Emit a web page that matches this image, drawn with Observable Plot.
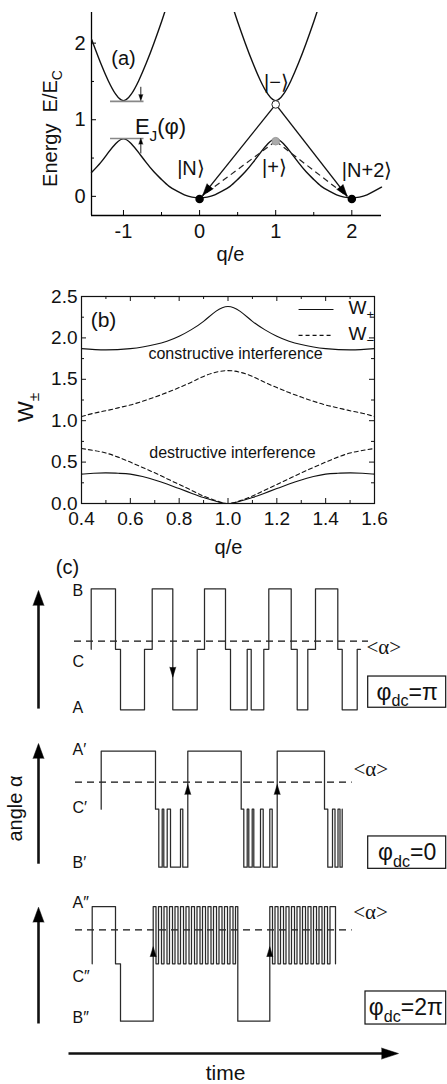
<!DOCTYPE html>
<html><head><meta charset="utf-8">
<script src="https://cdn.jsdelivr.net/npm/d3@7"></script>
<script src="https://cdn.jsdelivr.net/npm/@observablehq/plot@0.6"></script>
<style>
body{margin:0;background:#fff}
#wrap{position:relative;width:447px;height:1084px;overflow:hidden;background:#fff}
</style></head>
<body><div id="wrap"></div>
<script>
// ================= DATA =================
// Panel (a): energy bands vs q/e
const aLowerQ = [-1.42,-1.3,-1.2,-1.1,-1.0,-0.9,-0.8,-0.7,-0.6,-0.5,-0.4,-0.3,-0.2,-0.1,0,0.1,0.2,0.3,0.4,0.5,0.6,0.7,0.8,0.9,1.0,1.1,1.2,1.3,1.4,1.5,1.6,1.7,1.8,1.9,2.0,2.1,2.2,2.3,2.39];
const aLowerE = [0.31,0.44,0.57,0.69,0.75,0.69,0.57,0.44,0.32,0.22,0.13,0.07,0.02,-0.01,-0.02,-0.01,0.02,0.07,0.13,0.22,0.32,0.44,0.57,0.69,0.75,0.69,0.57,0.44,0.32,0.22,0.13,0.07,0.02,-0.01,-0.02,-0.01,0.02,0.07,0.12];
const aUpperLQ = [-1.42,-1.4,-1.3,-1.2,-1.1,-1.0,-0.9,-0.8,-0.7,-0.6,-0.5,-0.45];
const aUpperLE = [2.05,2.0,1.74,1.51,1.33,1.25,1.33,1.51,1.74,2.0,2.28,2.43];
const aUpperRQ = [0.45,0.5,0.6,0.7,0.8,0.9,1.0,1.1,1.2,1.3,1.4,1.5,1.55];
const aUpperRE = [2.43,2.28,2.0,1.74,1.51,1.33,1.25,1.33,1.51,1.74,2.0,2.28,2.43];
const aXTicks = [-1,0,1,2], aXMinor = [-0.5,0.5,1.5];
const aYTicks = [0,1,2], aYMinor = [0.5,1.5];
const aWhiteDot = [{q:1,E:1.2}];
const aGrayDot = [{q:1,E:0.72}];
const aBlackDots = [{q:0,E:-0.035},{q:2,E:-0.035}];
const aTips = [{q:0.04,E:0.01},{q:1.94,E:0.0}];
const aGapLevels = [1.24,0.755];

// Panel (b): W+ and W- vs q/e
const bWplusHiQ = [0.4,0.5,0.6,0.65,0.7,0.75,0.8,0.85,0.9,0.95,1.0,1.05,1.1,1.15,1.2,1.25,1.3,1.35,1.4,1.5,1.6];
const bWplusHi  = [1.87,1.855,1.87,1.89,1.92,1.96,2.02,2.10,2.20,2.32,2.38,2.32,2.20,2.10,2.02,1.96,1.92,1.89,1.87,1.855,1.87];
const bQ = [0.4,0.45,0.5,0.55,0.6,0.65,0.7,0.75,0.8,0.85,0.9,0.95,1.0,1.05,1.1,1.15,1.2,1.25,1.3,1.35,1.4,1.45,1.5,1.55,1.6];
const bWminusHi = [1.05,1.09,1.12,1.155,1.19,1.235,1.285,1.34,1.40,1.465,1.535,1.585,1.605,1.585,1.535,1.465,1.40,1.34,1.285,1.235,1.19,1.155,1.12,1.09,1.05];
const bWminusLo = [0.665,0.64,0.61,0.56,0.50,0.435,0.37,0.30,0.23,0.16,0.09,0.035,0.0,0.035,0.09,0.16,0.23,0.30,0.37,0.435,0.50,0.56,0.61,0.64,0.665];
const bWplusLo = [0.355,0.365,0.37,0.365,0.355,0.325,0.285,0.235,0.18,0.125,0.072,0.028,0.0,0.028,0.072,0.125,0.18,0.235,0.285,0.325,0.355,0.365,0.37,0.365,0.355];
const bXTicks = [0.4,0.6,0.8,1.0,1.2,1.4,1.6], bXMinor = [0.5,0.7,0.9,1.1,1.3,1.5];
const bYTicks = [0,0.5,1.0,1.5,2.0,2.5], bYMinor = [0.25,0.75,1.25,1.75,2.25];

// Panel (c): telegraph traces (time, level: 0 = bottom, 0.5 = middle, 1 = top)
const c1T = [22.7,22.7,47,52,76,83.7,104.3,128.7,136,157,162,178.7,182.7,195.3,200.3,222.7,228.7,239.3,247,269.3,273.7,288.7,292];
const c1L = [0.5,1,0.5,0,0.5,1,0,0.5,1,0.5,0,0.5,0,0.5,1,0.5,0,0.5,1,0.5,0,0.5,0.5];
const c2T = [32.7,32.7,87,90.3,93.7,95.3,98.7,102,112,114.3,119.3,172.7,175.3,178.7,180.3,183.7,185.3,192,194.7,201.3,203.7,208.7,256,259.3,264,266.5,269.5,271.5,273.7];
const c2L = [0.5,1,0.5,0,0.5,0,0.5,0,0.5,0,1,0.5,0,0.5,0,0.5,0,0.5,0,0.5,0,1,0.5,0,0.5,0,0.5,0,0.5];
const c3T = [23.7,23.7,47,52,84.7,87.5,90,93,95.5,98.5,101,104,106.5,109.5,112,115,117.5,120.5,123,126,128.5,131.5,134,137,139.5,142.5,145,148,150.5,153.5,156,159,161.5,164.5,167,169.3,201.3,204,206.5,209.5,212,215,217.5,220.5,223,226,228.5,231.5,234,237,239.5,242.5,245,248,250.5,253.5,256,259,261.5,267];
const c3L = [0.5,1,0.5,0,1,0.5,1,0.5,1,0.5,1,0.5,1,0.5,1,0.5,1,0.5,1,0.5,1,0.5,1,0.5,1,0.5,1,0.5,1,0.5,1,0.5,1,0.5,1,0,1,0.5,1,0.5,1,0.5,1,0.5,1,0.5,1,0.5,1,0.5,1,0.5,1,0.5,1,0.5,1,0.5,1,0.5];
const cMean = [0.567,0.733,0.797];        // <alpha> levels
const cMeanSpan = [[6,300],[7,283.7],[7,283.7]];
const cLevelNames = [["B","C","A"],["A\u2032","C\u2032","B\u2032"],["A\u2033","C\u2033","B\u2033"]];
const cPhase = ["\u03C6_{dc}=\u03C0","\u03C6_{dc}=0","\u03C6_{dc}=2\u03C0"];
const c1Arrows = [{t:104.3,l:0.27,rot:180}];
const c2Arrows = [{t:119.3,l:0.713,rot:0},{t:208.7,l:0.713,rot:0}];
const c3Arrows = [{t:84.7,l:0.65,rot:0},{t:201.3,l:0.65,rot:0}];

// ================= HELPERS =================
const W = 447;
const FONT = "Liberation Sans, Arial, Helvetica, sans-serif";
const zip = (xs, ys) => xs.map((x, i) => ({x, y: ys[i]}));
const wrap = document.getElementById("wrap");
function applySubs(root) {
  root.querySelectorAll("text").forEach(el => {
    const s = el.textContent;
    if (!/_\{/.test(s) || el.querySelector("tspan")) return;
    el.textContent = "";
    const re = /_\{([^}]*)\}/g; let last = 0, m, shifted = false;
    const add = (txt, sub) => {
      const t = document.createElementNS("http://www.w3.org/2000/svg", "tspan");
      t.textContent = txt;
      if (sub) { t.setAttribute("font-size", "70%"); t.setAttribute("dy", "0.4em"); }
      else if (shifted) t.setAttribute("dy", "-0.28em");
      el.appendChild(t); shifted = !!sub;
    };
    while ((m = re.exec(s))) { if (m.index > last) add(s.slice(last, m.index), false); add(m[1], true); last = re.lastIndex; }
    if (last < s.length) add(s.slice(last), false);
  });
}
function place(svg, top) {
  svg.style.position = "absolute"; svg.style.left = "0px"; svg.style.top = top + "px";
  wrap.appendChild(svg); applySubs(svg);
}
const head = (data, o) => Plot.vector(data, {shape: "spike", anchor: "end", fill: "black", stroke: "black", strokeWidth: 0.5, ...o});
const label = (data, o) => Plot.text(data, {x: "x", y: "y", text: "t", fill: "#111", ...o});

// ================= PANEL (a) =================
{
  const dx = [-1.42, 2.39], dy = [-0.25, 2.4];
  const m = {top: 12, right: 66, bottom: 65, left: 91}, H = 280;
  const kx = (W - m.left - m.right) / (dx[1] - dx[0]);
  const ky = (H - m.top - m.bottom) / (dy[1] - dy[0]);
  const rot = (p0, p1) => Math.atan2((p1.q - p0.q) * kx, (p1.E - p0.E) * ky) * 180 / Math.PI;
  const solidLinks = aTips.map(p => ({x1: aWhiteDot[0].q, y1: aWhiteDot[0].E, x2: p.q, y2: p.E}));
  const dashLinks = aTips.map(p => ({x1: aGrayDot[0].q, y1: aGrayDot[0].E, x2: p.q, y2: p.E}));
  const tipHeads = aTips.map(p => ({x: p.q, y: p.E, r: rot(aWhiteDot[0], p)}));
  const gapQ = [-1.17, -0.73], gapArrowQ = -0.772;
  const svg = Plot.plot({
    width: W, height: H, marginTop: m.top, marginRight: m.right, marginBottom: m.bottom, marginLeft: m.left,
    x: {domain: dx, label: null}, y: {domain: dy, label: null},
    style: {background: "transparent", fontFamily: FONT, overflow: "visible"},
    marks: [
      Plot.ruleY([dy[0]], {stroke: "black", strokeWidth: 1.3}),
      Plot.ruleX([dx[0]], {stroke: "black", strokeWidth: 1.3}),
      Plot.ruleX(aXTicks, {y1: dy[0], y2: dy[0] + 5 / ky, stroke: "black"}),
      Plot.ruleX(aXMinor, {y1: dy[0], y2: dy[0] + 3 / ky, stroke: "black"}),
      Plot.ruleY(aYTicks, {x1: dx[0], x2: dx[0] + 5 / kx, stroke: "black"}),
      Plot.ruleY(aYMinor, {x1: dx[0], x2: dx[0] + 3 / kx, stroke: "black"}),
      Plot.axisX(aXTicks, {tickSize: 0, tickPadding: 8, fontSize: 20, fill: "#111", tickFormat: d => String(d), label: null}),
      Plot.axisY(aYTicks, {tickSize: 0, tickPadding: 6, fontSize: 20, fill: "#111", tickFormat: d => String(d), label: null}),
      Plot.line(zip(aLowerQ, aLowerE), {x: "x", y: "y", curve: "natural", stroke: "#111", strokeWidth: 1.4}),
      Plot.line(zip(aUpperLQ, aUpperLE), {x: "x", y: "y", curve: "natural", stroke: "#111", strokeWidth: 1.4, clip: true}),
      Plot.line(zip(aUpperRQ, aUpperRE), {x: "x", y: "y", curve: "natural", stroke: "#111", strokeWidth: 1.4, clip: true}),
      Plot.ruleY(aGapLevels, {x1: gapQ[0], x2: gapQ[1], stroke: "#888", strokeWidth: 1.6}),
      Plot.link([{y1: 1.43, y2: 1.27}, {y1: 0.56, y2: 0.73}], {x1: gapArrowQ, x2: gapArrowQ, y1: "y1", y2: "y2", stroke: "#222", strokeWidth: 1}),
      head([{y: 1.25, r: 180}, {y: 0.76, r: 0}], {x: gapArrowQ, y: "y", rotate: "r", length: 6, r: 2}),
      Plot.link(solidLinks, {x1: "x1", y1: "y1", x2: "x2", y2: "y2", stroke: "#111", strokeWidth: 1.4}),
      Plot.link(dashLinks, {x1: "x1", y1: "y1", x2: "x2", y2: "y2", stroke: "#222", strokeWidth: 1.2, strokeDasharray: "6,4"}),
      Plot.dot(aBlackDots, {x: "q", y: "E", r: 3.5, fill: "black", stroke: "black"}),
      head(tipHeads, {x: "x", y: "y", rotate: "r", length: 12, r: 4}),
      Plot.dot(aWhiteDot, {x: "q", y: "E", r: 3.8, fill: "white", stroke: "#222", strokeWidth: 1}),
      Plot.dot(aGrayDot, {x: "q", y: "E", r: 3.8, fill: "#aaa", stroke: "#999", strokeWidth: 1}),
      label([{x: -1.0, y: 1.80, t: "(a)"}], {fontSize: 20}),
      label([{x: -0.85, y: 0.90, t: "E_{J}(\u03C6)"}], {fontSize: 22, textAnchor: "start"}),
      label([{x: -0.113, y: 0.363, t: "|N\u27E9"}, {x: 0.985, y: 0.376, t: "|+\u27E9"}, {x: 1.01, y: 1.486, t: "|\u2212\u27E9"}, {x: 2.2, y: 0.337, t: "|N+2\u27E9"}], {fontSize: 20}),
      label([{x: 0.406, y: -0.76, t: "q/e"}], {fontSize: 20}),
      label([{x: -1.96, y: 0.886, t: "Energy\u00A0\u00A0E/E_{C}"}], {fontSize: 20, rotate: -90})
    ]
  });
  place(svg, 0);
}

// ================= PANEL (b) =================
{
  const dx = [0.4, 1.6], dy = [0, 2.5];
  const m = {top: 11, right: 73, bottom: 57, left: 81}, H = 275;
  const kx = (W - m.left - m.right) / (dx[1] - dx[0]);
  const ky = (H - m.top - m.bottom) / (dy[1] - dy[0]);
  const fmt = d3.format(".1f");
  const svg = Plot.plot({
    width: W, height: H, marginTop: m.top, marginRight: m.right, marginBottom: m.bottom, marginLeft: m.left,
    x: {domain: dx, label: null}, y: {domain: dy, label: null},
    style: {background: "transparent", fontFamily: FONT, overflow: "visible"},
    marks: [
      Plot.frame({stroke: "#111", strokeWidth: 1.2}),
      Plot.ruleX(bXTicks, {y1: dy[0], y2: dy[0] + 5 / ky, stroke: "#111"}),
      Plot.ruleX(bXMinor, {y1: dy[0], y2: dy[0] + 3 / ky, stroke: "#111"}),
      Plot.ruleX(bXTicks, {y1: dy[1], y2: dy[1] - 5 / ky, stroke: "#111"}),
      Plot.ruleX(bXMinor, {y1: dy[1], y2: dy[1] - 3 / ky, stroke: "#111"}),
      Plot.ruleY(bYTicks, {x1: dx[0], x2: dx[0] + 5 / kx, stroke: "#111"}),
      Plot.ruleY(bYMinor, {x1: dx[0], x2: dx[0] + 3 / kx, stroke: "#111"}),
      Plot.ruleY(bYTicks, {x1: dx[1], x2: dx[1] - 5 / kx, stroke: "#111"}),
      Plot.ruleY(bYMinor, {x1: dx[1], x2: dx[1] - 3 / kx, stroke: "#111"}),
      Plot.axisX(bXTicks, {tickSize: 0, tickPadding: 8, fontSize: 19, fill: "#111", tickFormat: fmt, label: null}),
      Plot.axisY(bYTicks, {tickSize: 0, tickPadding: 4, fontSize: 19, fill: "#111", tickFormat: fmt, label: null}),
      Plot.line(zip(bWplusHiQ, bWplusHi), {x: "x", y: "y", curve: "natural", stroke: "#111", strokeWidth: 1.1}),
      Plot.line(zip(bQ, bWplusLo), {x: "x", y: "y", curve: "natural", stroke: "#111", strokeWidth: 1.1}),
      Plot.line(zip(bQ, bWminusHi), {x: "x", y: "y", curve: "natural", stroke: "#111", strokeWidth: 1.1, strokeDasharray: "4,3"}),
      Plot.line(zip(bQ, bWminusLo), {x: "x", y: "y", curve: "natural", stroke: "#111", strokeWidth: 1.1, strokeDasharray: "4,3"}),
      Plot.link([{y: 2.343}], {x1: 1.289, x2: 1.432, y1: "y", y2: "y", stroke: "#111", strokeWidth: 1.1}),
      Plot.link([{y: 2.03}], {x1: 1.289, x2: 1.432, y1: "y", y2: "y", stroke: "#111", strokeWidth: 1.1, strokeDasharray: "4,3"}),
      label([{x: 1.494, y: 2.36, t: "W_{+}"}, {x: 1.494, y: 2.05, t: "W_{\u2212}"}], {fontSize: 19, textAnchor: "start"}),
      label([{x: 0.49, y: 2.21, t: "(b)"}], {fontSize: 21}),
      label([{x: 1.031, y: 1.81, t: "constructive interference"}, {x: 1.018, y: 0.616, t: "destructive interference"}], {fontSize: 16}),
      label([{x: 1.002, y: -0.53, t: "q/e"}], {fontSize: 20}),
      label([{x: 0.171, y: 1.16, t: "W_{\u00B1}"}], {fontSize: 22, rotate: -90})
    ]
  });
  place(svg, 285);
}

// ================= PANEL (c) =================
function cPlot(i, top, H, mT, plotH, T, L, arrows, extra) {
  const dx = [0, 330];
  const ky = plotH / 1;
  const names = cLevelNames[i];
  const nameY = extra.nameY;
  const svg = Plot.plot({
    width: W, height: H, marginTop: mT, marginBottom: H - mT - plotH, marginLeft: 68, marginRight: 49,
    x: {domain: dx, axis: null}, y: {domain: [0, 1], axis: null},
    style: {background: "transparent", fontFamily: FONT, overflow: "visible"},
    marks: [
      Plot.ruleY([cMean[i]], {x1: cMeanSpan[i][0], x2: cMeanSpan[i][1], stroke: "#111", strokeWidth: 1.2, strokeDasharray: "7,5"}),
      Plot.line(zip(T, L), {x: "x", y: "y", curve: "step-after", stroke: "#2a2a2a", strokeWidth: 1.25}),
      head(arrows, {x: "t", y: "l", rotate: "rot", length: 10, r: 3}),
      // left vertical arrow
      Plot.link([{y1: extra.arrowY[0], y2: extra.arrowY[1] - 10 / ky}], {x1: -30, x2: -30, y1: "y1", y2: "y2", stroke: "#111", strokeWidth: 2.6}),
      head([{y: extra.arrowY[1]}], {x: -30, y: "y", rotate: 0, length: 15, r: 5.5}),
      label(names.map((t, k) => ({x: 4, y: nameY[k], t})), {fontSize: 16, textAnchor: "start"}),
      label([{x: extra.meanLabel[0], y: extra.meanLabel[1], t: "<\u03B1>"}], {fontSize: 21, textAnchor: "start", fontFamily: "Liberation Serif, Times New Roman, serif"}),
      Plot.rect([extra.box], {x1: "x1", x2: "x2", y1: "y1", y2: "y2", fill: "white", stroke: "#111", strokeWidth: 1.2}),
      label([{x: (extra.box.x1 + extra.box.x2) / 2, y: extra.boxText, t: cPhase[i]}], {fontSize: 23}),
      ...(extra.more || [])
    ]
  });
  place(svg, top);
}
cPlot(0, 555, 170, 33.3, 121, c1T, c1L, c1Arrows, {
  nameY: [0.986, 0.40, 0.02], arrowY: [0.01, 0.986], meanLabel: [298, 0.517],
  box: {x1: 299.7, x2: 377.7, y1: 0.017, y2: 0.275}, boxText: 0.146,
  more: [label([{x: -1, y: 1.176, t: "(c)"}], {fontSize: 20})]
});
cPlot(1, 725, 160, 25.7, 116, c2T, c2L, c2Arrows, {
  nameY: [1.015, 0.51, 0.04], arrowY: [0.03, 1.066], meanLabel: [285, 0.848],
  box: {x1: 299.7, x2: 377.7, y1: -0.014, y2: 0.265}, boxText: 0.125,
  more: [label([{x: -53, y: 0.506, t: "angle \u03B1"}], {fontSize: 20, rotate: -90})]
});
cPlot(2, 890, 194, 16, 114.7, c3T, c3L, c3Arrows, {
  nameY: [1.03, 0.384, 0.028], arrowY: [-0.02, 0.994], meanLabel: [284.7, 0.95],
  box: {x1: 297, x2: 377.7, y1: -0.029, y2: 0.259}, boxText: 0.115,
  more: [
    Plot.link([{y: -0.282}], {x1: 0, x2: 320, y1: "y", y2: "y", stroke: "#111", strokeWidth: 2.6}),
    head([{y: -0.282}], {x: 330, y: "y", rotate: 90, length: 17, r: 5.5}),
    label([{x: 157, y: -0.45, t: "time"}], {fontSize: 21})
  ]
});
</script>
</body></html>
